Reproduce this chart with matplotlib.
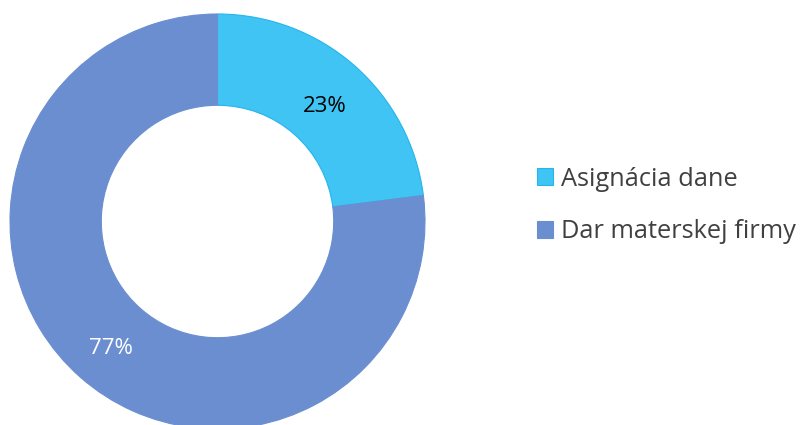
import matplotlib
matplotlib.use("Agg")
import matplotlib.pyplot as plt

labels = ["Asignácia dane", "Dar materskej firmy"]
values = [23, 77]
colors = ["#3fc4f4", "#6b8ed0"]
edge_colors = ["#26b4ec", "#6b8ed0"]
pct_colors = ["#000000", "#ffffff"]

plt.rcParams["font.family"] = ["Open Sans", "DejaVu Sans"]

W, H = 803, 425
fig = plt.figure(figsize=(W / 100, H / 100), dpi=100)
ax = fig.add_axes([0, 0, 1, 1])

wedges, _, autotexts = ax.pie(
    values,
    colors=colors,
    startangle=90,
    counterclock=False,
    radius=1.0,
    autopct="%1.0f%%",
    pctdistance=0.78,
    wedgeprops=dict(width=0.44, linewidth=0.8),
    textprops=dict(fontsize=16),
)
for w, ec in zip(wedges, edge_colors):
    w.set_edgecolor(ec)

# pie centre and radius in pixels
cx, cy, radius = 217.5, H - 221.5, 207.5
for t, c in zip(autotexts, pct_colors):
    t.set_color(c)
    x, y = t.get_position()
    t.set_position((x, y - 6 / radius))

ax.set_aspect("auto")
ax.set_xlim(-cx / radius, (W - cx) / radius)
ax.set_ylim(-cy / radius, (H - cy) / radius)
ax.axis("off")

leg = fig.legend(
    wedges,
    labels,
    loc="center left",
    bbox_to_anchor=(537 / W, (H - 205.5) / H),
    frameon=False,
    fontsize=18.3,
    borderpad=0,
    borderaxespad=0,
    handlelength=0.64,
    handleheight=0.64,
    handletextpad=0.3,
    labelspacing=1.1,
)
for t in leg.get_texts():
    t.set_color("#404040")

fig.savefig("out.png", dpi=100)
